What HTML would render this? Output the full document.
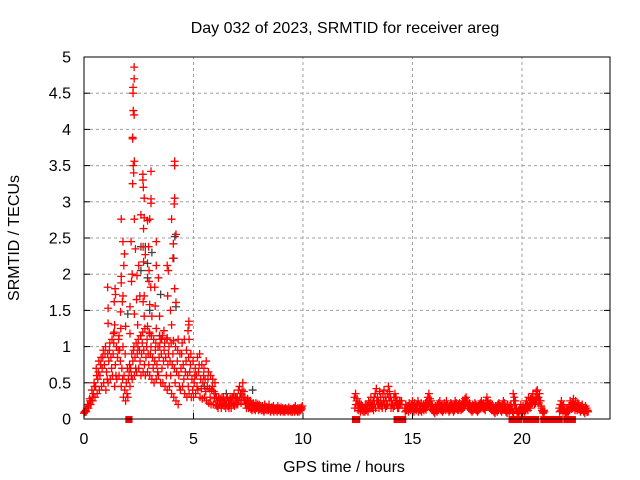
<!DOCTYPE html>
<html><head><meta charset="utf-8"><style>
body{margin:0;background:#fff}
svg{display:block;font-family:"Liberation Sans",sans-serif;font-size:16px}
</style></head><body>
<svg id="c" width="640" height="480" xmlns="http://www.w3.org/2000/svg">
<text x="345" y="33" text-anchor="middle">Day 032 of 2023, SRMTID for receiver areg</text>
<text x="344" y="472" text-anchor="middle">GPS time / hours</text>
<text x="0" y="0" transform="translate(19,238) rotate(-90)" text-anchor="middle">SRMTID / TECUs</text>
<g id="grid"></g><g id="marks"></g><g id="axes"></g>
</svg>
<script>
const xTicks=[0,5,10,15,20];
const yTicks=[0,0.5,1,1.5,2,2.5,3,3.5,4,4.5,5];
const yTickLabels=["0","0.5","1","1.5","2","2.5","3","3.5","4","4.5","5"];
const upperPairs=[[2.29,4.86],[2.29,4.70],[2.24,4.58],[2.24,4.50],[2.25,4.26],[2.29,4.20],[2.22,3.89],[2.22,3.87],[2.3,3.56],[2.25,3.50],[2.27,3.40],[4.14,3.56],[4.14,3.50],[3.06,3.42],[2.69,3.38],[2.69,3.30],[2.71,3.20],[2.22,3.25],[2.75,3.05],[3.06,3.04],[3.06,2.98],[4.14,3.05],[4.12,2.97],[1.70,2.76],[2.3,2.76],[2.6,2.82],[2.75,2.78],[2.9,2.74],[3.0,2.76],[4.0,2.76],[2.72,2.63],[4.2,2.55],[1.78,2.45],[2.15,2.45],[3.3,2.45],[4.08,2.42],[2.35,2.35],[2.7,2.38],[2.95,2.38],[1.85,2.28],[2.8,2.27],[4.06,2.22],[2.72,2.17],[1.82,2.12],[2.5,2.12],[3.3,2.12],[3.8,2.12],[2.97,2.05],[3.85,2.05],[1.7,1.97],[2.2,2.0],[2.42,1.98],[1.08,1.82],[1.42,1.80],[1.7,1.88],[2.17,1.9],[3.4,1.95],[2.97,1.9],[3.05,1.82],[3.23,1.82],[1.44,1.72],[1.78,1.70],[2.55,1.70],[2.75,1.70],[3.82,1.70],[4.14,1.80],[1.38,1.62],[1.75,1.62],[2.4,1.65],[2.7,1.62],[3.0,1.58],[3.25,1.56],[4.2,1.61],[1.1,1.53],[2.1,1.55],[1.67,1.48],[2.3,1.45],[2.75,1.42],[3.1,1.42],[3.45,1.42],[3.95,1.50],[1.1,1.32],[1.4,1.30],[1.9,1.28],[2.45,1.30],[2.9,1.28],[3.3,1.25],[3.65,1.22],[4.0,1.30],[4.79,1.35],[4.79,1.30],[4.75,1.22],[1.35,1.18],[1.6,1.15],[2.1,1.18],[2.6,1.15],[3.0,1.18],[3.45,1.15],[3.8,1.12],[4.3,1.10],[4.8,1.10]];
const greyPairs=[[2.6,2.38],[2.8,2.38],[2.6,2.05],[2.9,2.15],[3.1,2.3],[4.15,2.52],[4.1,2.22],[3.55,1.1],[3.5,1.72],[3.45,1.15],[2.9,1.95],[4.2,1.55],[2.0,1.45],[3.0,1.5],[6.5,0.35],[5.5,0.45],[7.7,0.4]];
const earlyHi=[0.12,0.18,0.25,0.3,0.45,0.6,0.8,0.85,0.95,1.0,0.9,1.05,1.1,1.2,1.0,1.1,1.25,1.0,0.9,0.7,0.75,0.9,1.0,1.05,1.1,1.15,1.2,1.25,1.1,1.2,1.15,1.1,1.05,1.0,1.1,1.15,1.05,1.1,1.0,1.05,1.08,1.0,0.95,0.9,1.05,1.1,0.95,0.85,0.9,0.8,0.7,0.85,0.9,0.75,0.7,0.8,0.65,0.6,0.55,0.5];
const earlyMid=[0.1,0.15,0.2,0.25,0.35,0.45,0.55,0.6,0.7,0.75,0.65,0.8,0.85,0.9,0.75,0.85,0.95,0.7,0.6,0.5,0.55,0.7,0.8,0.85,0.9,0.95,0.9,0.95,0.85,0.9,0.9,0.85,0.8,0.75,0.85,0.9,0.8,0.85,0.75,0.8,0.75,0.7,0.65,0.6,0.7,0.75,0.65,0.6,0.65,0.55,0.5,0.6,0.65,0.55,0.5,0.55,0.45,0.42,0.4,0.38];
const earlyLo=[0.08,0.1,0.15,0.2,0.25,0.3,0.35,0.4,0.45,0.5,0.4,0.5,0.55,0.6,0.45,0.55,0.6,0.45,0.3,0.25,0.3,0.45,0.55,0.6,0.65,0.7,0.6,0.65,0.6,0.65,0.6,0.55,0.5,0.55,0.6,0.5,0.5,0.45,0.4,0.45,0.35,0.3,0.25,0.2,0.4,0.45,0.35,0.3,0.35,0.3,0.3,0.35,0.4,0.3,0.28,0.3,0.25,0.22,0.2,0.2];
const earlyX=[0.1,0.2,0.28,0.4,0.5,0.7,0.65,0.75,0.85,0.9,0.55,0.95,0.7,1.05,0.6,0.95,0.8,0.55,0.4,0.35,0.65,0.6,0.95,0.7,1.0,0.8,1.05,0.75,1.0,0.75,1.0,0.7,0.95,0.65,1.0,0.7,0.95,0.6,0.9,0.6,0.9,0.5,0.8,0.45,0.9,0.55,0.8,0.45,0.75,0.4,0.6,0.45,0.75,0.42,0.6,0.38,0.55,0.3,0.45,0.28];
const lowA=[0.35,0.3,0.25,0.3,0.2,0.25,0.3,0.22,0.18,0.25,0.2,0.3,0.25,0.2,0.28,0.22,0.3,0.35,0.25,0.2,0.3,0.4,0.45,0.35,0.3,0.5,0.38,0.3,0.25,0.2,0.22,0.18,0.25,0.2,0.15,0.2,0.18,0.22,0.15,0.18,0.2,0.15,0.12,0.18,0.15,0.2,0.14,0.12,0.16,0.2,0.15,0.12,0.14,0.18,0.13,0.12,0.15,0.18,0.12,0.14,0.16,0.12,0.1,0.14,0.15,0.12,0.13,0.16,0.12,0.1,0.14,0.12,0.15,0.18,0.12,0.1,0.13,0.15,0.12,0.14];
const lowB=[0.2,0.18,0.15,0.2,0.28,0.15,0.2,0.3,0.25,0.15,0.3,0.18,0.15,0.28,0.15,0.3,0.2,0.18,0.3,0.28,0.2,0.25,0.3,0.22,0.4,0.3,0.25,0.2,0.15,0.28,0.15,0.25,0.14,0.12,0.22,0.14,0.12,0.15,0.2,0.12,0.14,0.18,0.16,0.12,0.1,0.13,0.17,0.15,0.12,0.14,0.1,0.16,0.12,0.1,0.15,0.14,0.1,0.12,0.15,0.1,0.12,0.15,0.13,0.1,0.12,0.14,0.1,0.12,0.14,0.13,0.1,0.15,0.1,0.12,0.14,0.15,0.1,0.12,0.16,0.18];
const midA=[0.3,0.35,0.25,0.2,0.15,0.2,0.12,0.18,0.1,0.15,0.2,0.12,0.18,0.25,0.15,0.3,0.2,0.25,0.3,0.35,0.42,0.3,0.25,0.38,0.3,0.2,0.35,0.4,0.3,0.25,0.35,0.45,0.38,0.3,0.25,0.2,0.3,0.35,0.3,0.25,0.2,0.25,0.2,0.25];
const midB=[0.15,0.2,0.28,0.12,0.22,0.1,0.2,0.12,0.15,0.1,0.12,0.2,0.1,0.15,0.22,0.18,0.15,0.12,0.2,0.15,0.25,0.2,0.15,0.22,0.18,0.15,0.25,0.2,0.15,0.18,0.2,0.3,0.25,0.15,0.2,0.15,0.18,0.25,0.2,0.15,0.15,0.2,0.25,0.2];
const hiA=[0.15,0.2,0.12,0.18,0.22,0.15,0.2,0.25,0.18,0.22,0.15,0.2,0.25,0.2,0.18,0.22,0.15,0.2,0.18,0.22,0.25,0.3,0.35,0.28,0.25,0.2,0.15,0.12,0.18,0.15,0.2,0.22,0.25,0.18,0.2,0.15,0.22,0.18,0.25,0.2,0.15,0.18,0.22,0.2,0.15,0.2,0.25,0.22,0.18,0.2,0.22,0.18,0.2,0.25,0.22,0.28,0.3,0.25,0.2,0.22,0.18,0.15,0.2,0.18,0.22,0.2,0.15,0.18,0.2,0.22,0.25,0.2,0.22,0.18,0.25,0.3,0.25,0.2,0.22,0.18,0.2,0.15,0.12,0.18,0.15,0.2,0.22,0.18,0.15,0.2,0.25,0.22,0.15,0.12,0.2,0.15,0.18,0.2,0.15,0.1];
const hiB=[0.1,0.12,0.15,0.1,0.14,0.12,0.15,0.13,0.1,0.14,0.12,0.15,0.1,0.13,0.12,0.1,0.14,0.12,0.15,0.13,0.18,0.2,0.22,0.15,0.18,0.12,0.1,0.08,0.12,0.1,0.12,0.15,0.13,0.12,0.1,0.12,0.14,0.12,0.15,0.13,0.1,0.12,0.15,0.13,0.1,0.12,0.15,0.14,0.12,0.13,0.15,0.12,0.14,0.15,0.18,0.2,0.22,0.18,0.15,0.14,0.12,0.1,0.12,0.14,0.13,0.12,0.1,0.12,0.14,0.15,0.18,0.15,0.14,0.12,0.18,0.2,0.18,0.15,0.14,0.12,0.12,0.1,0.08,0.12,0.1,0.12,0.15,0.12,0.1,0.13,0.15,0.14,0.1,0.08,0.12,0.1,0.12,0.14,0.1,0.08];
const endA=[0.35,0.3,0.25,0.15,0.1,0.12,0.15,0.2,0.12,0.18,0.15,0.2,0.25,0.2,0.3,0.22,0.28,0.3,0.35,0.25,0.3,0.38,0.4,0.3,0.35,0.25,0.15,0.1,0.12];
const endB=[0.25,0.2,0.15,0.1,0.08,0.1,0.12,0.1,0.08,0.12,0.1,0.12,0.15,0.12,0.18,0.15,0.2,0.22,0.25,0.2,0.22,0.28,0.3,0.22,0.25,0.18,0.12,0.08,0.1];
const lateA=[0.15,0.2,0.25,0.18,0.2,0.12,0.1,0.15,0.12,0.18,0.25,0.2,0.22,0.28,0.2,0.25,0.18,0.22,0.2,0.15,0.18,0.2,0.15,0.12,0.18,0.15,0.12];
const lateB=[0.1,0.12,0.15,0.1,0.12,0.08,0.08,0.1,0.1,0.12,0.15,0.14,0.15,0.18,0.12,0.15,0.12,0.14,0.13,0.1,0.12,0.14,0.1,0.08,0.12,0.1,0.1];
const zeroStart=[2.0,12.35,14.25,19.5,20.15,20.45,20.55,20.65,20.95,22.0];
const zeroEnd=[2.1,12.5,14.6,19.9,20.3,20.47,20.57,20.67,21.75,22.35];

const X0=84,X1=610,Y0=419,Y1=57,XMAX=24.02,YMAX=5;
const NS="http://www.w3.org/2000/svg";
function sx(t){return X0+t/XMAX*(X1-X0);}
function sy(v){return Y0-v/YMAX*(Y0-Y1);}
function mk(tag,a,parent){const e=document.createElementNS(NS,tag);for(const k in a)e.setAttribute(k,a[k]);parent.appendChild(e);return e;}
const grid=document.getElementById('grid'),marks=document.getElementById('marks'),axes=document.getElementById('axes');
xTicks.forEach(t=>{if(t>0){const l=mk('line',{x1:sx(t),x2:sx(t),y1:Y0,y2:Y1,stroke:'#a0a0a0','stroke-dasharray':'3,3'},grid);

}
const tk=mk('line',{x1:sx(t),x2:sx(t),y1:Y0,y2:Y0-6,stroke:'#000'},axes);


const tx=mk('text',{x:sx(t),y:444,'text-anchor':'middle'},axes);tx.textContent=String(t);

});
yTicks.forEach((v,i)=>{if(v>0&&v<YMAX){const l=mk('line',{x1:X0,x2:X1,y1:sy(v),y2:sy(v),stroke:'#a0a0a0','stroke-dasharray':'3,3'},grid);

}
mk('line',{x1:X0,x2:X0+6,y1:sy(v),y2:sy(v),stroke:'#000'},axes);
mk('line',{x1:X1,x2:X1-6,y1:sy(v),y2:sy(v),stroke:'#000'},axes);
const tx=mk('text',{x:71,y:sy(v)+5.5,'text-anchor':'end'},axes);tx.textContent=yTickLabels[i];

});
const frame=mk('rect',{x:X0,y:Y1,width:X1-X0,height:Y0-Y1,fill:'none',stroke:'#000'},axes);


function plus(t,v,col){const x=sx(t),y=sy(v);const p=mk('path',{d:`M${x-4},${y}h8M${x},${y-4}v8`,stroke:col,'stroke-width':1.3,fill:'none'},marks);

}
greyPairs.forEach(p=>plus(p[0],p[1],'#404040'));
function series(arr,t0,dt){arr.forEach((v,i)=>plus(t0+i*dt,v,'#ff0000'));}
series(earlyLo,0,0.1);series(earlyMid,0.03,0.1);series(earlyX,0.06,0.1);series(earlyHi,0.08,0.1);
series(lowA,6.0,0.05);series(lowB,6.02,0.05);
series(midA,12.35,0.05);series(midB,12.37,0.05);
series(hiA,14.65,0.05);series(hiB,14.67,0.05);
series(endA,19.6,0.05);series(endB,19.62,0.05);
series(lateA,21.7,0.05);series(lateB,21.72,0.05);
upperPairs.forEach(p=>plus(p[0],p[1],'#ff0000'));
zeroStart.forEach((s,i)=>{const r=mk('rect',{x:sx(s)-2.5,y:sy(0)-3,width:sx(zeroEnd[i])-sx(s)+5,height:7,fill:'#ff0000'},marks);

});
</script>
</body></html>
